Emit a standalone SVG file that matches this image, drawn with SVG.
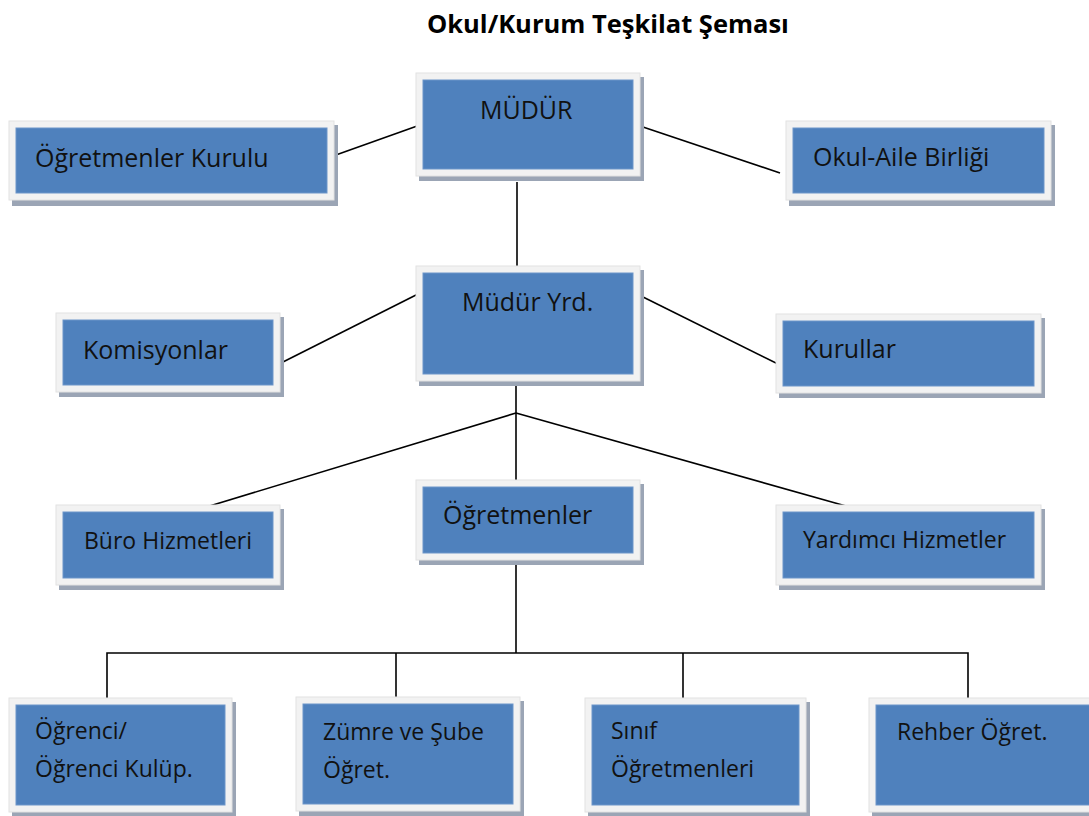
<svg xmlns="http://www.w3.org/2000/svg" width="1089" height="816" viewBox="0 0 1089 816">
<style>
.sh{fill:#9ba5b5}
.bd{fill:#f2f2f2;stroke:#e2e2e2;stroke-width:1}
.bx{fill:#4f81bd;stroke:#6c95c9;stroke-width:1}
.t{font-family:"Open Sans","Liberation Sans",sans-serif;font-size:25px;fill:#111}
.s{font-family:"Open Sans","Liberation Sans",sans-serif;font-size:23px;fill:#111}
.title{font-family:"Open Sans","Liberation Sans",sans-serif;font-size:25.5px;font-weight:bold;fill:#000}
.c{stroke:#000;stroke-width:1.6;fill:none}
</style>
<rect width="1089" height="816" fill="#fff"/>
<text class="title" x="427" y="33">Okul/Kurum Teşkilat Şeması</text>
<g id="connectors">
<line class="c" x1="333" y1="156" x2="420" y2="125"/>
<line class="c" x1="637" y1="125" x2="780" y2="173"/>
<line class="c" x1="517" y1="182" x2="517" y2="266"/>
<line class="c" x1="420" y1="293" x2="277" y2="365"/>
<line class="c" x1="637" y1="294" x2="780" y2="365"/>
<line class="c" x1="516" y1="382" x2="516" y2="413"/>
<line class="c" x1="516" y1="413" x2="203" y2="508"/>
<line class="c" x1="516" y1="413" x2="516" y2="480"/>
<line class="c" x1="516" y1="413" x2="853" y2="508"/>
<line class="c" x1="516" y1="560" x2="516" y2="653"/>
<polyline class="c" points="107,700 107,653 968,653 968,700"/>
<line class="c" x1="396" y1="653" x2="396" y2="700"/>
<line class="c" x1="683" y1="653" x2="683" y2="700"/>
</g>
<g id="mudur">
<rect class="sh" x="419" y="77" width="225" height="104"/>
<rect class="bd" x="416" y="73" width="224" height="103"/>
<rect class="bx" x="423" y="80" width="210" height="89"/>
<text class="t" x="480" y="119">MÜDÜR</text>
</g>
<g id="ogretmenler-kurulu">
<rect class="sh" x="12" y="125" width="326" height="81"/>
<rect class="bd" x="9" y="121" width="325" height="79"/>
<rect class="bx" x="16" y="128" width="311" height="65"/>
<text class="t" x="35" y="167">Öğretmenler Kurulu</text>
</g>
<g id="okul-aile">
<rect class="sh" x="789" y="125" width="266" height="81"/>
<rect class="bd" x="786" y="121" width="265" height="79"/>
<rect class="bx" x="793" y="128" width="251" height="65"/>
<text class="t" x="813" y="166">Okul-Aile Birliği</text>
</g>
<g id="mudur-yrd">
<rect class="sh" x="419" y="270" width="225" height="116"/>
<rect class="bd" x="416" y="266" width="224" height="115"/>
<rect class="bx" x="423" y="273" width="210" height="101"/>
<text class="t" x="462" y="311">Müdür Yrd.</text>
</g>
<g id="komisyonlar">
<rect class="sh" x="59" y="317" width="225" height="80"/>
<rect class="bd" x="56" y="313" width="224" height="79"/>
<rect class="bx" x="63" y="320" width="210" height="65"/>
<text class="t" x="83" y="359">Komisyonlar</text>
</g>
<g id="kurullar">
<rect class="sh" x="779" y="318" width="266" height="80"/>
<rect class="bd" x="776" y="314" width="265" height="79"/>
<rect class="bx" x="783" y="321" width="251" height="65"/>
<text class="t" x="803" y="358">Kurullar</text>
</g>
<g id="buro">
<rect class="sh" x="59" y="509" width="225" height="81"/>
<rect class="bd" x="56" y="505" width="224" height="80"/>
<rect class="bx" x="63" y="512" width="210" height="66"/>
<text class="s" x="84" y="549">Büro Hizmetleri</text>
</g>
<g id="ogretmenler">
<rect class="sh" x="419" y="484" width="225" height="81"/>
<rect class="bd" x="416" y="480" width="224" height="80"/>
<rect class="bx" x="423" y="487" width="210" height="66"/>
<text class="t" x="443" y="524">Öğretmenler</text>
</g>
<g id="yardimci">
<rect class="sh" x="779" y="509" width="266" height="81"/>
<rect class="bd" x="776" y="505" width="265" height="80"/>
<rect class="bx" x="783" y="512" width="251" height="66"/>
<text class="s" x="803" y="548">Yardımcı Hizmetler</text>
</g>
<g id="ogrenci">
<rect class="sh" x="12" y="702" width="224" height="116"/>
<rect class="bd" x="9" y="698" width="223" height="114"/>
<rect class="bx" x="16" y="705" width="209" height="100"/>
<text class="s" x="35" y="739">Öğrenci/</text>
<text class="s" x="35" y="777">Öğrenci Kulüp.</text>
</g>
<g id="zumre">
<rect class="sh" x="299" y="701" width="225" height="116"/>
<rect class="bd" x="296" y="697" width="224" height="114"/>
<rect class="bx" x="303" y="704" width="210" height="100"/>
<text class="s" x="323" y="740">Zümre ve Şube</text>
<text class="s" x="323" y="778">Öğret.</text>
</g>
<g id="sinif">
<rect class="sh" x="588" y="702" width="222" height="116"/>
<rect class="bd" x="585" y="698" width="221" height="114"/>
<rect class="bx" x="592" y="705" width="207" height="100"/>
<text class="s" x="611" y="739">Sınıf</text>
<text class="s" x="611" y="777">Öğretmenleri</text>
</g>
<g id="rehber">
<rect class="sh" x="872" y="702" width="240" height="116"/>
<rect class="bd" x="869" y="698" width="240" height="114"/>
<rect class="bx" x="876" y="705" width="240" height="100"/>
<text class="s" x="897" y="740">Rehber Öğret.</text>
</g>
</svg>
